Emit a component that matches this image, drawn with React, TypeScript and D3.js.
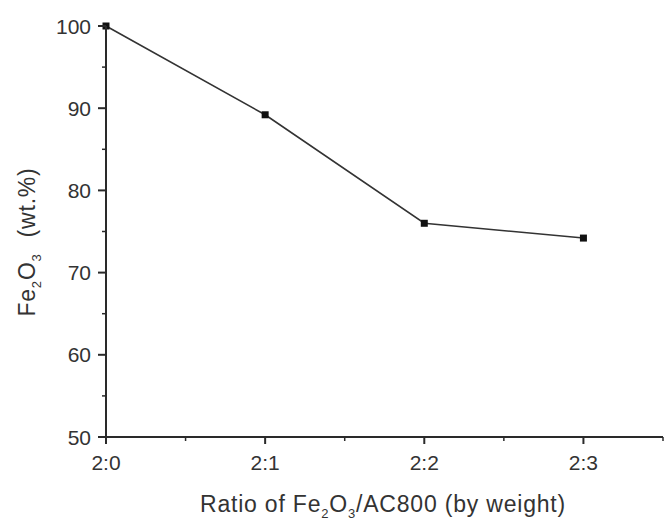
import React from "react";
import * as d3 from "d3";

const categories = ["2:0", "2:1", "2:2", "2:3"];
const values = [100, 89.2, 76.0, 74.2];
const yTicks = [50, 60, 70, 80, 90, 100];
const yMinor = [55, 65, 75, 85, 95];
const xMinor = [0.5, 1.5, 2.5, 3.5];

const W = 664, H = 520;
const left = 106, right = 663, top = 26, bottom = 437;

export default function App() {
  const x = d3.scaleLinear().domain([0, 3.5]).range([left, right]);
  const y = d3.scaleLinear().domain([50, 100]).range([bottom, top]);
  const line = d3.line<number>().x((_, i) => x(i)).y((d) => y(d));
  const font = "Arial, 'Liberation Sans', sans-serif";
  const col = "#2a2a2a";
  const txt = "#333";
  return (
    <svg width={W} height={H} style={{ position: "absolute", left: 0, top: 0, background: "#fff" }} fontFamily={font}>
      <path d={line(values) || ""} fill="none" stroke="#333" strokeWidth={1.6} />
      {values.map((v, i) => (
        <rect key={i} x={x(i) - 3.5} y={y(v) - 3.5} width={7} height={7} fill="#111" />
      ))}
      <line x1={left} x2={left} y1={top} y2={bottom + 7} stroke={col} strokeWidth={2} />
      <line x1={left - 8} x2={right} y1={bottom} y2={bottom} stroke={col} strokeWidth={2} />
      {yTicks.map((t) => (
        <g key={t}>
          <line x1={left - 8} x2={left} y1={y(t)} y2={y(t)} stroke={col} strokeWidth={2} />
          <text x={left - 15} y={y(t)} dy="0.36em" textAnchor="end" fontSize={21} fill={txt}>{t}</text>
        </g>
      ))}
      {yMinor.map((t) => (
        <line key={t} x1={left - 4} x2={left} y1={y(t)} y2={y(t)} stroke={col} strokeWidth={1.5} />
      ))}
      {categories.map((c, i) => (
        <g key={c}>
          <line x1={x(i)} x2={x(i)} y1={bottom} y2={bottom + 7} stroke={col} strokeWidth={2} />
          <text x={x(i)} y={bottom + 33} textAnchor="middle" fontSize={21} fill={txt}>{c}</text>
        </g>
      ))}
      {xMinor.map((t) => (
        <line key={t} x1={x(t)} x2={x(t)} y1={bottom} y2={bottom + 4} stroke={col} strokeWidth={1.5} />
      ))}
      <text x={383} y={512} textAnchor="middle" fontSize={23} letterSpacing={0.8} fill={txt}>
        Ratio of Fe<tspan fontSize={13} dy={6}>2</tspan><tspan dy={-6}>O</tspan><tspan fontSize={13} dy={6}>3</tspan><tspan dy={-6}>/AC800 (by weight)</tspan>
      </text>
      <text transform={`translate(35, 242) rotate(-90)`} textAnchor="middle" fontSize={23} letterSpacing={0.8} fill={txt}>
        Fe<tspan fontSize={13} dy={6}>2</tspan><tspan dy={-6}>O</tspan><tspan fontSize={13} dy={6}>3</tspan><tspan dy={-6} dx={16}>(wt.%)</tspan>
      </text>
    </svg>
  );
}
